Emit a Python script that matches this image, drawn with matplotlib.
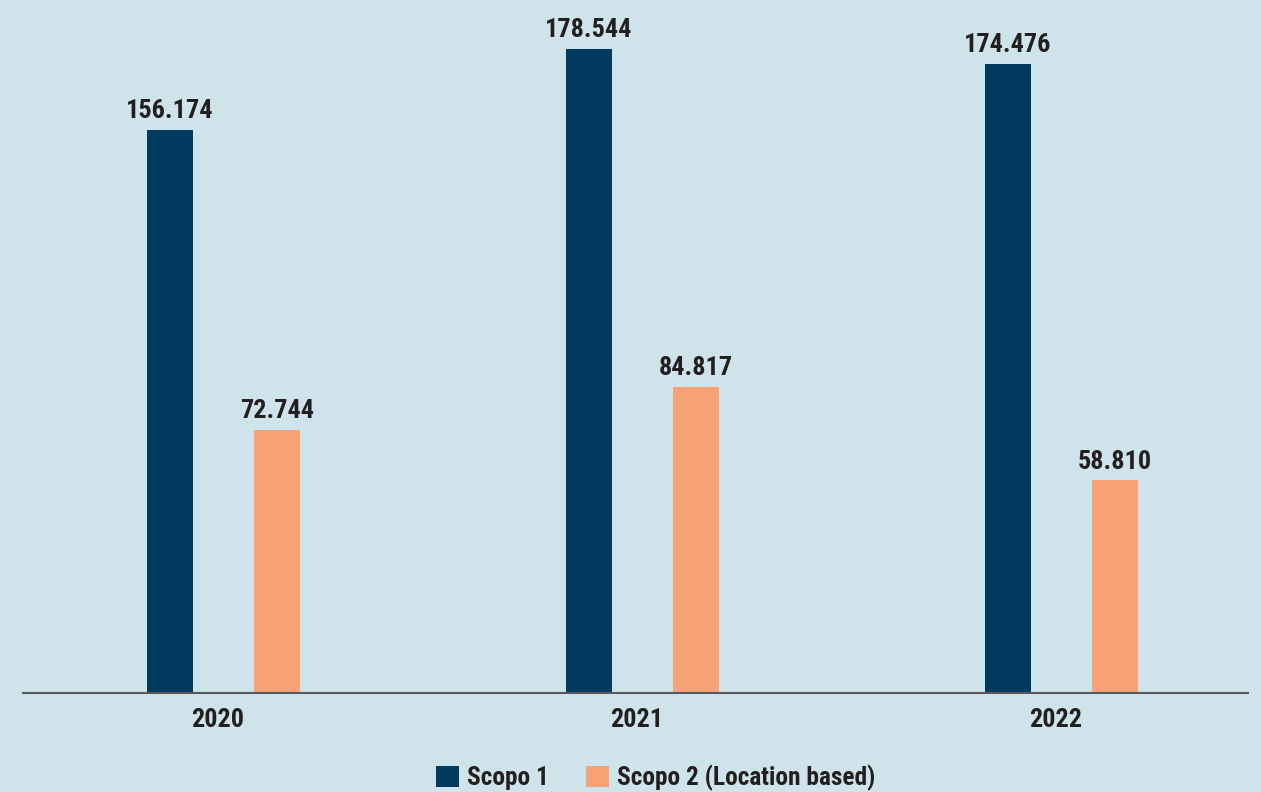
import matplotlib
matplotlib.use("Agg")
import matplotlib.pyplot as plt
import matplotlib.transforms as mtransforms
import numpy as np
from matplotlib.patches import Patch

years = ["2020", "2021", "2022"]
scopo1 = [156.174, 178.544, 174.476]
scopo2 = [72.744, 84.817, 58.810]
series_names = ["Scopo 1", "Scopo 2 (Location based)"]

BG = "#cfe4ea"
NAVY = "#003a5f"
SALMON = "#f7a377"
TEXT = "#231f20"
FONT = ["Roboto Condensed", "Roboto", "DejaVu Sans"]
FS = 18.9
LFS = 18.3

plt.rcParams['font.family'] = FONT

fig = plt.figure(figsize=(12.61, 7.92), dpi=100, facecolor=BG)
ax = fig.add_axes([23/1261, (792-692.5)/792, (1248-23)/1261, 692.5/792])
ax.set_facecolor(BG)

x = np.arange(len(years))
w = 0.1098
off = 0.1277
b1 = ax.bar(x - off, scopo1, width=w, color=NAVY, label=series_names[0])
b2 = ax.bar(x + off, scopo2, width=w, color=SALMON, label=series_names[1])

def fmt(v):
    return f"{v:.3f}"

for bars, vals in ((b1, scopo1), (b2, scopo2)):
    for r, v in zip(bars, vals):
        ax.annotate(fmt(v), (r.get_x() + r.get_width()/2, r.get_height()),
                    xytext=(0, 8.6), textcoords="offset points",
                    ha="center", va="baseline", fontsize=FS,
                    fontweight="bold", color=TEXT)

ax.set_xlim(-0.4785, 2.446)
ax.set_ylim(0, 192.1)
ax.set_xticks(x)
ax.set_xticklabels(years, fontsize=FS, fontweight="bold", color=TEXT)
ax.tick_params(axis='x', length=0, pad=24.8)
shift = mtransforms.ScaledTranslation(-6/100, 0, fig.dpi_scale_trans)
for lbl in ax.get_xticklabels():
    lbl.set_va('baseline')
    lbl.set_transform(lbl.get_transform() + shift)
ax.set_yticks([])
for s in ("top", "right", "left"):
    ax.spines[s].set_visible(False)
ax.spines["bottom"].set_color("#555a5e")
ax.spines["bottom"].set_linewidth(1.5)

handles = [Patch(facecolor=NAVY), Patch(facecolor=SALMON)]
leg = fig.legend(handles, series_names, loc="center left",
                 bbox_to_anchor=(436/1261, (792-778)/792), ncol=2,
                 frameon=False, borderpad=0, borderaxespad=0,
                 handlelength=0.9, handleheight=0.9,
                 handletextpad=0.33, columnspacing=1.45,
                 prop={'size': LFS, 'weight': 'bold', 'family': FONT})
for t in leg.get_texts():
    t.set_color(TEXT)

fig.savefig("out.png", dpi=100, facecolor=BG)
